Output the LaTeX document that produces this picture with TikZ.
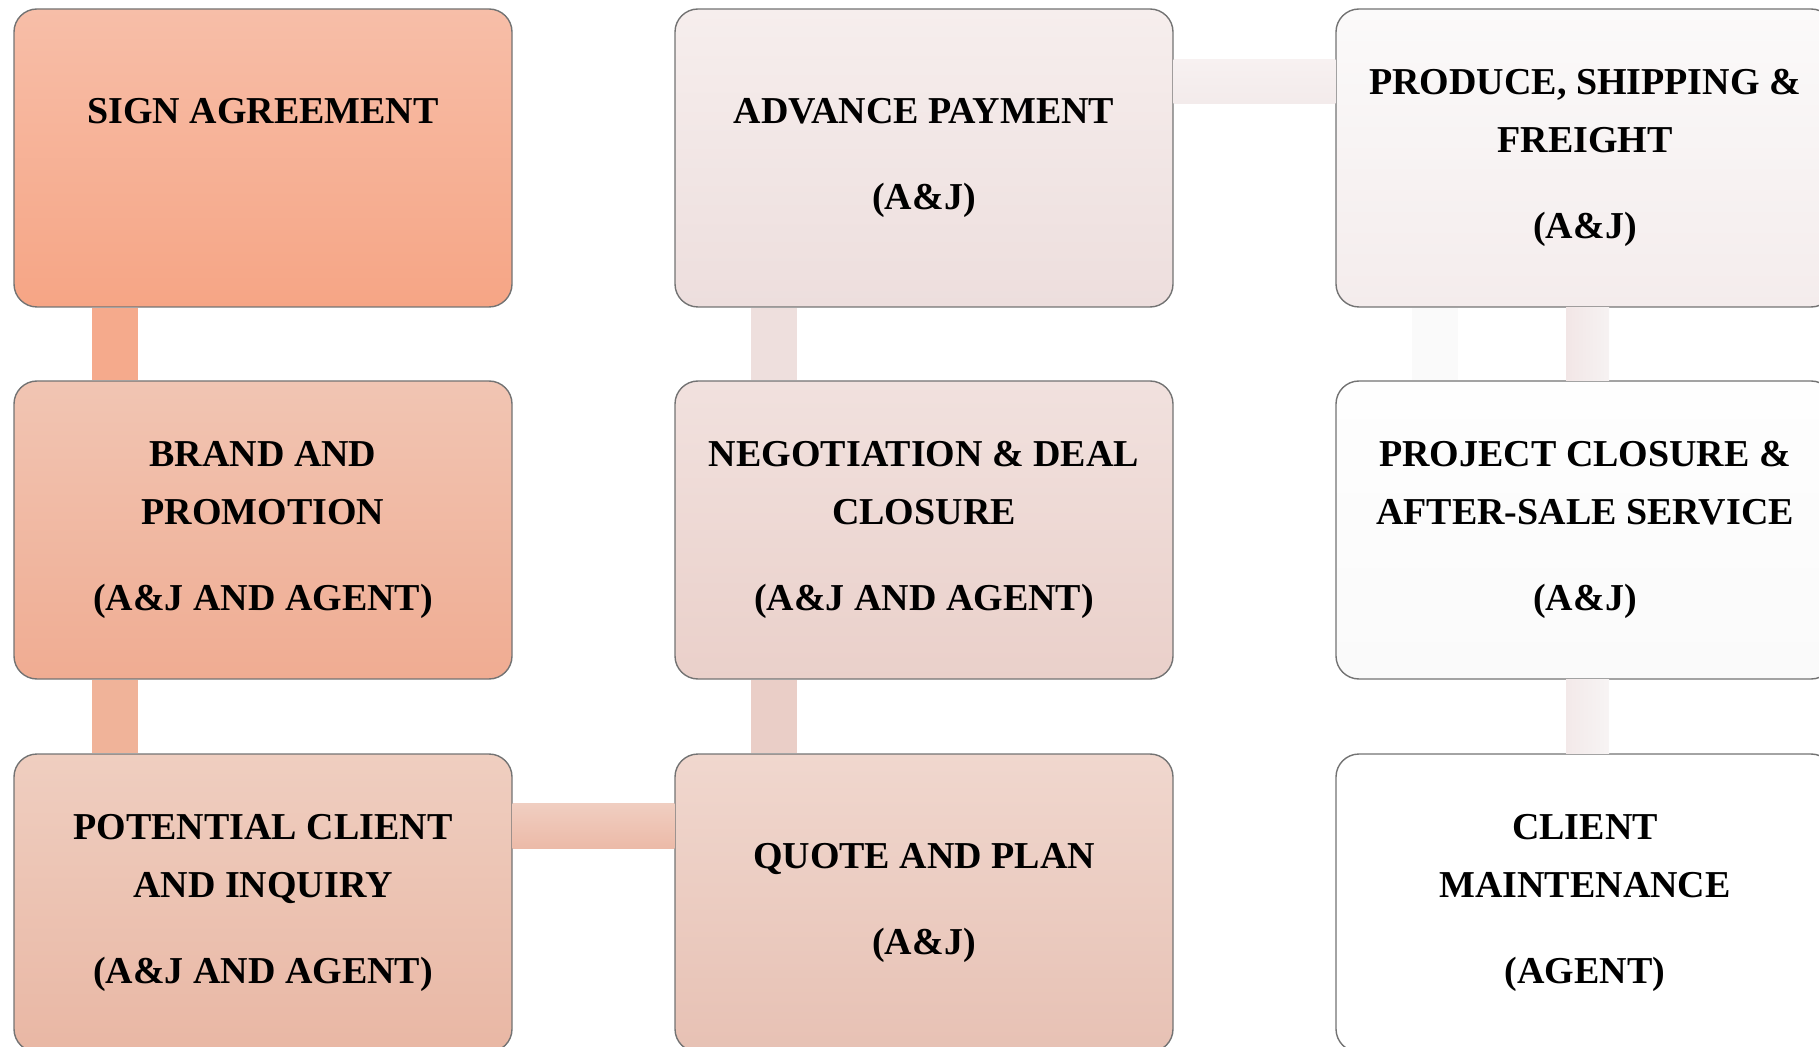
\documentclass[tikz,border=0pt]{standalone}
\usepackage{fontspec}
\setmainfont{Liberation Serif}
\usetikzlibrary{calc}

\definecolor{boxline}{RGB}{115,115,115}
\definecolor{signtop}{RGB}{247,190,168}
\definecolor{signbot}{RGB}{246,165,133}
\definecolor{brandtop}{RGB}{241,197,179}
\definecolor{brandbot}{RGB}{240,172,146}
\definecolor{clienttop}{RGB}{239,206,192}
\definecolor{clientbot}{RGB}{233,183,164}
\definecolor{paytop}{RGB}{246,238,237}
\definecolor{paybot}{RGB}{237,222,221}
\definecolor{dealtop}{RGB}{241,225,222}
\definecolor{dealbot}{RGB}{234,208,202}
\definecolor{quotetop}{RGB}{240,215,206}
\definecolor{quotebot}{RGB}{231,193,180}
\definecolor{shiptop}{RGB}{251,250,250}
\definecolor{shipbot}{RGB}{244,236,236}
\definecolor{closetop}{RGB}{254,254,254}
\definecolor{closebot}{RGB}{250,250,250}

\tikzset{
  stepbox/.style={draw=boxline, line width=0.7pt, rounded corners=11.5pt,
    minimum width=249pt, minimum height=149pt, align=center,
    font=\fontsize{19}{29}\selectfont\bfseries},
}
\newcommand{\pgap}{\\[14pt]}

\begin{document}
\begin{tikzpicture}[x=0.5pt, y=-0.5pt]
		%%%%% START %%%%%
		\useasboundingbox (0,0) rectangle (1819,1047);
		\clip (0,0) rectangle (1819,1047);
		
		\node[stepbox, top color=signtop, bottom color=signbot] (sign) at (263,158) {SIGN AGREEMENT\pgap\phantom{(A\&J)}};
		\node[stepbox, top color=brandtop, bottom color=brandbot] (brand) at (263,530) {BRAND AND\\PROMOTION\pgap(A\&J AND AGENT)};
		\node[stepbox, top color=clienttop, bottom color=clientbot] (client) at (263,903) {POTENTIAL CLIENT\\AND INQUIRY\pgap(A\&J AND AGENT)};
		
		\node[stepbox, top color=paytop, bottom color=paybot] (pay) at (924,158) {ADVANCE PAYMENT\pgap(A\&J)};
		\node[stepbox, top color=dealtop, bottom color=dealbot] (deal) at (924,530) {NEGOTIATION \& DEAL\\CLOSURE\pgap(A\&J AND AGENT)};
		\node[stepbox, top color=quotetop, bottom color=quotebot] (quote) at (924,903) {QUOTE AND PLAN\pgap(A\&J)};
		
		\node[stepbox, top color=shiptop, bottom color=shipbot] (ship) at (1585,158) {PRODUCE, SHIPPING \&\\FREIGHT\pgap(A\&J)};
		\node[stepbox, top color=closetop, bottom color=closebot] (closure) at (1585,530) {PROJECT CLOSURE \&\\AFTER-SALE SERVICE\pgap(A\&J)};
		\node[stepbox, fill=white] (care) at (1585,903) {CLIENT\\MAINTENANCE\pgap(AGENT)};
		
		% bars between the steps
		\fill[color={rgb,255:red,245;green,170;blue,140}] ([xshift=39.5pt]sign.south west) rectangle ([xshift=62.5pt]brand.north west);
		\fill[color={rgb,255:red,240;green,179;blue,153}] ([xshift=39.5pt]brand.south west) rectangle ([xshift=62.5pt]client.north west);
		\shade[top color={rgb,255:red,240;green,206;blue,193}, bottom color={rgb,255:red,236;green,186;blue,168}] ([yshift=-25pt]client.north east) rectangle ([yshift=-47.5pt]quote.north west);
		\fill[color={rgb,255:red,234;green,206;blue,199}] ([xshift=38.5pt]quote.north west) rectangle ([xshift=61.5pt]deal.south west);
		\fill[color={rgb,255:red,238;green,223;blue,221}] ([xshift=38.5pt]deal.north west) rectangle ([xshift=61.5pt]pay.south west);
		\shade[top color={rgb,255:red,247;green,241;blue,241}, bottom color={rgb,255:red,243;green,235;blue,235}] ([yshift=-25.5pt]pay.north east) rectangle ([yshift=-47.5pt]ship.north west);
		\fill[color={rgb,255:red,250;green,250;blue,250}] ([xshift=38.5pt]ship.south west) rectangle ([xshift=61.5pt]closure.north west);
		\shade[left color={rgb,255:red,242;green,230;blue,230}, right color={rgb,255:red,246;green,242;blue,242}] ([xshift=-9.5pt]ship.south) rectangle ([xshift=12pt]closure.north);
		\shade[left color={rgb,255:red,243;green,233;blue,233}, right color={rgb,255:red,247;green,244;blue,244}] ([xshift=-9.5pt]closure.south) rectangle ([xshift=12pt]care.north);
		
		%%%%% END %%%%%
\end{tikzpicture}
\end{document}
